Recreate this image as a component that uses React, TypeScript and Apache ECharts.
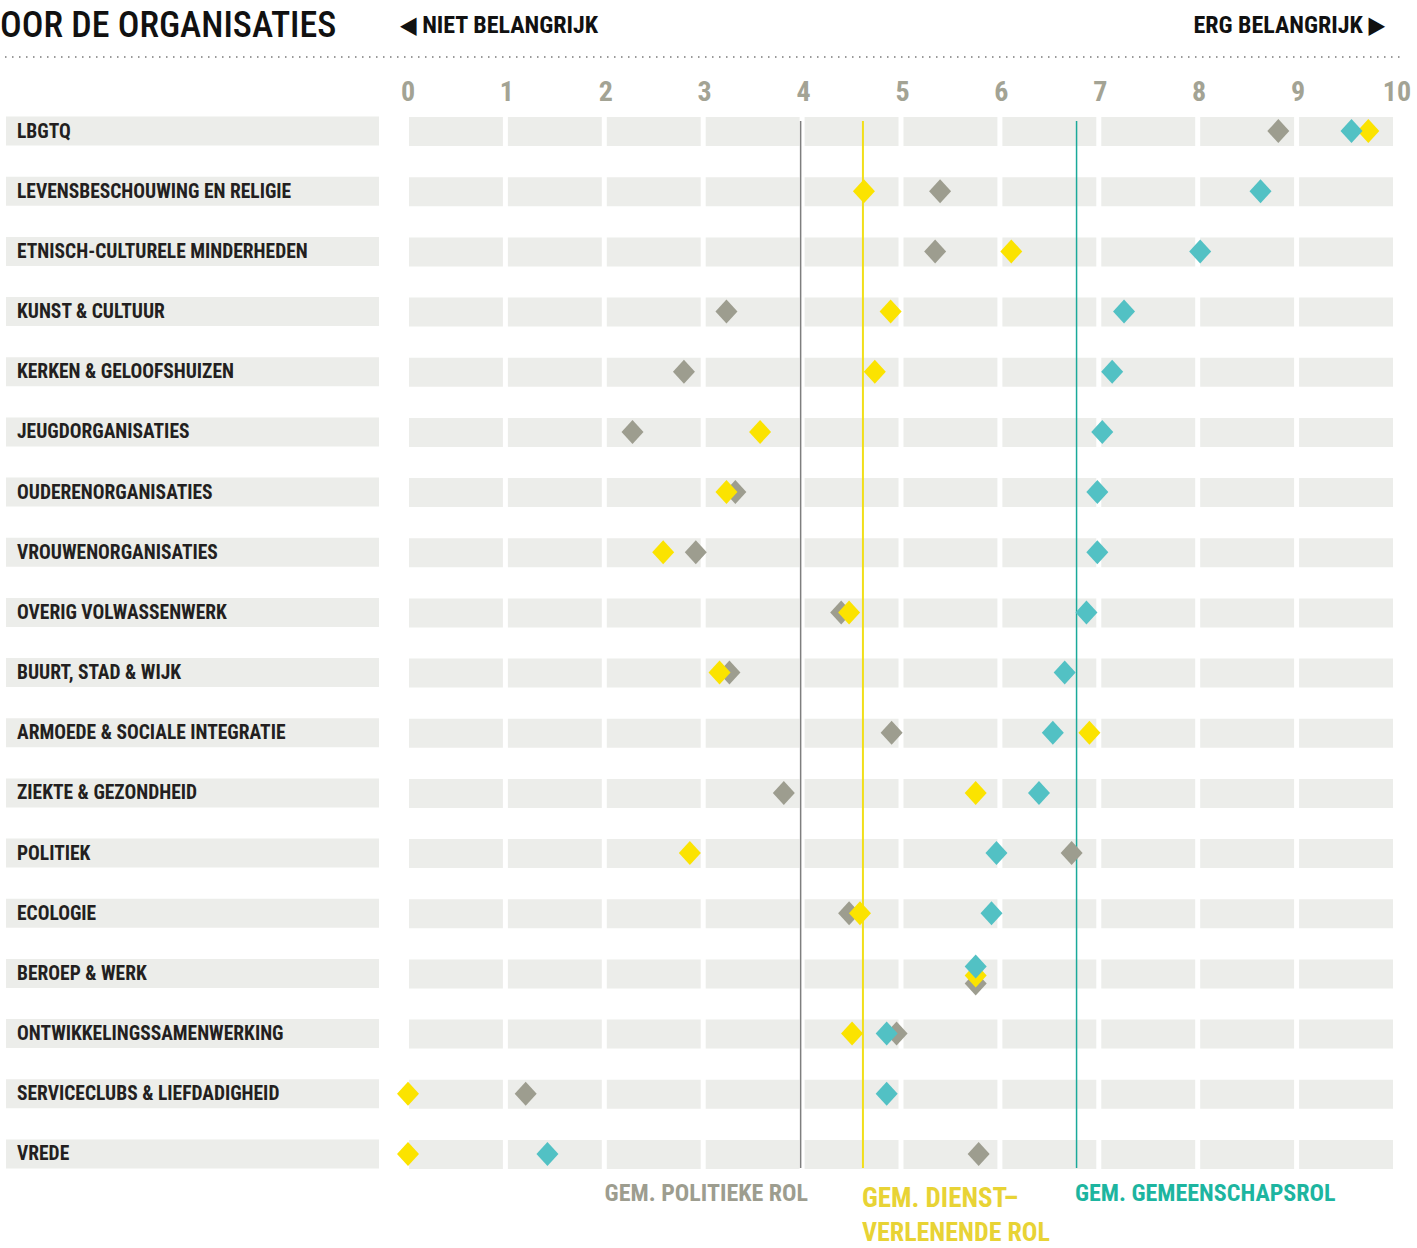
import React, { useEffect, useRef } from "react";
import * as echarts from "echarts";

const categories = [
  "LBGTQ",
  "LEVENSBESCHOUWING EN RELIGIE",
  "ETNISCH-CULTURELE MINDERHEDEN",
  "KUNST & CULTUUR",
  "KERKEN & GELOOFSHUIZEN",
  "JEUGDORGANISATIES",
  "OUDERENORGANISATIES",
  "VROUWENORGANISATIES",
  "OVERIG VOLWASSENWERK",
  "BUURT, STAD & WIJK",
  "ARMOEDE & SOCIALE INTEGRATIE",
  "ZIEKTE & GEZONDHEID",
  "POLITIEK",
  "ECOLOGIE",
  "BEROEP & WERK",
  "ONTWIKKELINGSSAMENWERKING",
  "SERVICECLUBS & LIEFDADIGHEID",
  "VREDE",
];

const politiekeRol = [8.8, 5.38, 5.33, 3.22, 2.79, 2.27, 3.31, 2.91, 4.38, 3.25, 4.89, 3.8, 6.71, 4.46, 5.74, 4.94, 1.19, 5.77];
const dienstverlenendeRol = [9.71, 4.61, 6.1, 4.88, 4.72, 3.56, 3.22, 2.58, 4.46, 3.15, 6.89, 5.74, 2.85, 4.57, 5.74, 4.49, 0.0, 0.0];
const gemeenschapsRol = [9.54, 8.62, 8.01, 7.24, 7.12, 7.02, 6.97, 6.97, 6.86, 6.64, 6.52, 6.38, 5.95, 5.9, 5.74, 4.84, 4.84, 1.41];

const gemPolitiek = 3.97;
const gemDienst = 4.6;
const gemGemeenschap = 6.76;

const tickValues = [0, 1, 2, 3, 4, 5, 6, 7, 8, 9, 10];

const GRAY = "#9D9D8F";
const YELLOW = "#FBE300";
const TEAL = "#52C1C4";
const BAND = "#ECEDEA";
const FONT = "'Roboto Condensed', 'Liberation Sans Narrow', 'DejaVu Sans Condensed', Roboto, sans-serif";

// rows where the three diamonds coincide get a small vertical nudge
const stackedRow = "BEROEP & WERK";
const stackNudge = { gray: 10, yellow: 2, teal: -7 };

export default function App() {
  const ref = useRef<HTMLDivElement>(null);
  useEffect(() => {
    document.body.style.margin = "0";
    const chart = echarts.init(ref.current!, null, { renderer: "svg" });

    const mkData = (vals: number[], nudge: number) =>
      vals.map((v, i) =>
        categories[i] === stackedRow ? { value: [v, i], symbolOffset: [0, nudge] } : { value: [v, i] }
      );

    const bandSeries = {
      type: "custom",
      silent: true,
      z: 1,
      data: categories.map((_, i) => [i]),
      renderItem: (params: any, api: any) => {
        const idx = api.value(0);
        const children: any[] = [];
        for (let k = 0; k < tickValues.length - 1; k++) {
          const p0 = api.coord([tickValues[k], idx]);
          const p1 = api.coord([tickValues[k + 1], idx]);
          children.push({
            type: "rect",
            shape: { x: p0[0] + 1, y: p0[1] - 14, width: p1[0] - p0[0] - 5, height: 29 },
            style: { fill: BAND },
          });
        }
        return { type: "group", children };
      },
      clip: false,
    };

    const avgLines = [
      { v: gemPolitiek, color: "#7E7E7E", w: 1.5 },
      { v: gemDienst, color: "#F2DF1A", w: 2 },
      { v: gemGemeenschap, color: "#1AA99A", w: 1.5 },
    ];

    const lineSeries = {
      type: "custom",
      silent: true,
      z: 2,
      data: avgLines.map((l) => [l.v]),
      renderItem: (params: any, api: any) => {
        const l = avgLines[params.dataIndex];
        const top = api.coord([l.v, 0]);
        const bot = api.coord([l.v, categories.length - 1]);
        return {
          type: "line",
          shape: { x1: top[0], y1: top[1] - 10, x2: bot[0], y2: bot[1] + 14 },
          style: { stroke: l.color, lineWidth: l.w },
        };
      },
      clip: false,
    };

    const scatter = (name: string, vals: number[], color: string, nudge: number, z: number) => ({
      type: "scatter",
      name,
      symbol: "diamond",
      symbolSize: [22, 24],
      itemStyle: { color, opacity: 1 },
      z,
      data: mkData(vals, nudge),
    });

    chart.setOption({
      animation: false,
      textStyle: { fontFamily: FONT },
      grid: { left: 408, width: 989, top: 101, height: 1083 },
      xAxis: {
        type: "value",
        min: 0,
        max: 10,
        interval: 1,
        position: "top",
        axisLine: { show: false },
        axisTick: { show: false },
        splitLine: { show: false },
        axisLabel: {
          color: "#A3A394",
          fontSize: 28,
          fontWeight: "bold",
          fontFamily: FONT,
          verticalAlign: "middle",
          margin: 10,
        },
      },
      yAxis: {
        type: "category",
        inverse: true,
        data: categories,
        axisLine: { show: false },
        axisTick: { show: false },
        splitLine: { show: false },
        axisLabel: {
          align: "left",
          margin: 402,
          formatter: "{b|{value}}",
          rich: {
            b: {
              backgroundColor: BAND,
              width: 362,
              height: 29,
              lineHeight: 29,
              padding: [0, 0, 0, 11],
              fontSize: 19.5,
              fontWeight: "bold",
              color: "#231F20",
              fontFamily: FONT,
            },
          },
        },
      },
      series: [
        bandSeries,
        lineSeries,
        scatter("Politieke rol", politiekeRol, GRAY, stackNudge.gray, 3),
        scatter("Dienstverlenende rol", dienstverlenendeRol, YELLOW, stackNudge.yellow, 4),
        scatter("Gemeenschapsrol", gemeenschapsRol, TEAL, stackNudge.teal, 5),
      ],
      graphic: [
        {
          type: "text",
          left: 0,
          top: 7,
          style: { text: "OOR DE ORGANISATIES", fontSize: 36, fontFamily: FONT, fill: "#111", fontWeight: 500 },
        },
        {
          type: "text",
          left: 400,
          top: 13,
          style: { text: "◀ NIET BELANGRIJK", fontSize: 24, fontFamily: FONT, fill: "#111", fontWeight: "bold" },
        },
        {
          type: "text",
          right: 32,
          top: 13,
          style: { text: "ERG BELANGRIJK ▶", fontSize: 24, fontFamily: FONT, fill: "#111", fontWeight: "bold" },
        },
        {
          type: "line",
          shape: { x1: 5, y1: 57, x2: 1400, y2: 57 },
          style: { stroke: "#9A9A9A", lineWidth: 2, lineDash: [1.5, 5.5] },
        },
        {
          type: "text",
          right: 1417 - 808,
          top: 1181,
          style: { text: "GEM. POLITIEKE ROL", fontSize: 24, fontFamily: FONT, fill: GRAY, fontWeight: "bold" },
        },
        {
          type: "text",
          left: 862,
          top: 1184,
          style: {
            text: "GEM. DIENST–",
            fontSize: 27,
            lineHeight: 27,
            fontFamily: FONT,
            fill: "#E8D335",
            fontWeight: "bold",
          },
        },
        {
          type: "text",
          left: 862,
          top: 1219,
          style: {
            text: "VERLENENDE ROL",
            fontSize: 26,
            lineHeight: 26,
            fontFamily: FONT,
            fill: "#E8D335",
            fontWeight: "bold",
          },
        },
        {
          type: "text",
          left: 1075,
          top: 1181,
          style: { text: "GEM. GEMEENSCHAPSROL", fontSize: 24, fontFamily: FONT, fill: "#1DB5A0", fontWeight: "bold" },
        },
      ],
    });
    return () => chart.dispose();
  }, []);
  return <div ref={ref} style={{ width: 1417, height: 1248 }} />;
}
